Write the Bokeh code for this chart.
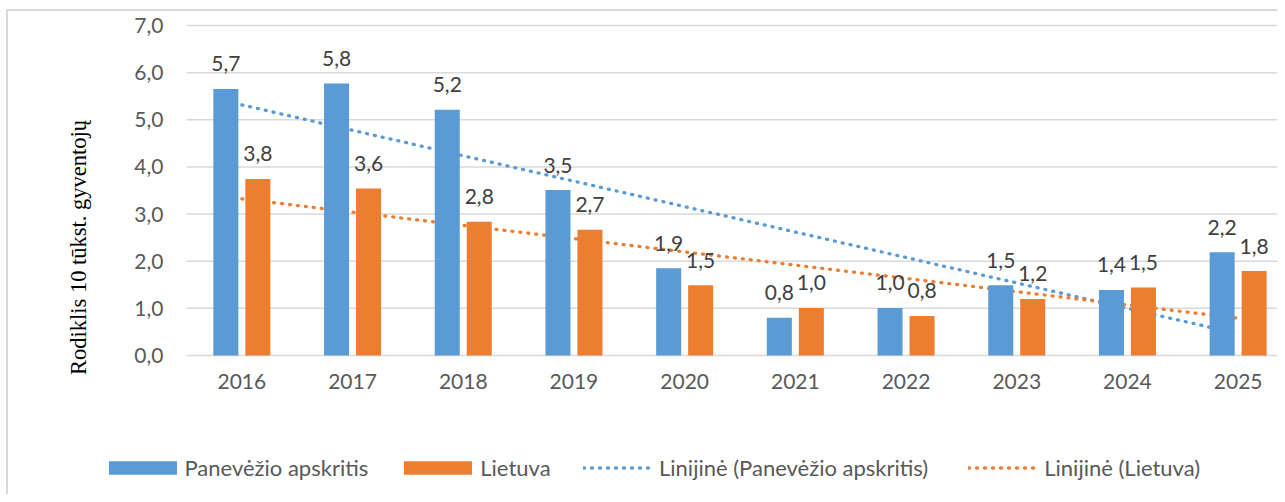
import numpy as np
from bokeh.plotting import figure
from bokeh.models import (ColumnDataSource, Range1d, FixedTicker, CustomJSTickFormatter,
                          Legend, LegendItem)
from bokeh.core.properties import value
from bokeh.embed import file_html
from bokeh.resources import INLINE

years = ["2016", "2017", "2018", "2019", "2020", "2021", "2022", "2023", "2024", "2025"]
panevezys = [5.655, 5.77, 5.215, 3.51, 1.853, 0.80, 1.01, 1.49, 1.39, 2.19]
lietuva = [3.745, 3.54, 2.835, 2.67, 1.49, 1.01, 0.84, 1.20, 1.445, 1.79]
pan_labels = ["5,7", "5,8", "5,2", "3,5", "1,9", "0,8", "1,0", "1,5", "1,4", "2,2"]
lt_labels = ["3,8", "3,6", "2,8", "2,7", "1,5", "1,0", "0,8", "1,2", "1,5", "1,8"]
y_ticks = [0, 1, 2, 3, 4, 5, 6, 7]
series_names = ["Panevėžio apskritis", "Lietuva",
                "Linijinė (Panevėžio apskritis)", "Linijinė (Lietuva)"]
y_title = "Rodiklis 10 tūkst. gyventojų"

BLUE = "#5B9BD5"
ORANGE = "#ED7D31"
GRID = "#D9D9D9"
FONT = "Lato"

W, H = 1277, 494
# plot-area geometry (pixels on the canvas)
PA_LEFT, PA_TOP, PA_BOTTOM = 186, 25, 355
CAT_PX = 110.7
Y_MAX = 7
UNIT_PX = (PA_BOTTOM - PA_TOP) / Y_MAX

idx = np.arange(len(years)) + 0.5
off = 0.1445
bw = 0.226

src = ColumnDataSource(dict(
    x_pan=idx - off, x_lt=idx + off,
    pan=panevezys, lt=lietuva,
    pan_lab=pan_labels, lt_lab=lt_labels,
))

# linear trend lines (least squares fit, as in the original chart)
kp, bp = np.polyfit(idx, panevezys, 1)
kl, bl = np.polyfit(idx, lietuva, 1)
tx = [idx[0], idx[-1]]
trend_src = ColumnDataSource(dict(
    x=tx,
    pan=[kp * t + bp for t in tx],
    lt=[kl * t + bl for t in tx],
))

x_start = -PA_LEFT / CAT_PX
x_end = (W - PA_LEFT) / CAT_PX
y_start = -(H - PA_BOTTOM) / UNIT_PX
y_end = Y_MAX + PA_TOP / UNIT_PX

p = figure(width=W, height=H,
           x_range=Range1d(x_start, x_end), y_range=Range1d(y_start, y_end),
           output_backend="svg", toolbar_location=None,
           min_border_left=0, min_border_right=0,
           min_border_top=0, min_border_bottom=0,
           outline_line_color=None,
           background_fill_color=None, border_fill_color=None)
p.styles = {
    "background-color": "white",
    "background-image": "linear-gradient(#D9D9D9,#D9D9D9), linear-gradient(#D9D9D9,#D9D9D9)",
    "background-repeat": "no-repeat",
    "background-size": "1400px 2px, 2px 600px",
    "background-position": "7px 9px, 6px 9px",
}

# horizontal gridlines over the plot area
p.segment(x0=0, x1=x_end, y0=y_ticks, y1=y_ticks, line_color=GRID, line_width=1.5)

# trend lines first (they sit behind the bars)
r_tp = p.line("x", "pan", source=trend_src, line_color=BLUE, line_width=3.3,
              line_dash="1 7", line_cap="round")
r_tl = p.line("x", "lt", source=trend_src, line_color=ORANGE, line_width=3.3,
              line_dash="1 7", line_cap="round")

r_bp = p.vbar(x="x_pan", top="pan", width=bw, source=src, fill_color=BLUE, line_color=None)
r_bl = p.vbar(x="x_lt", top="lt", width=bw, source=src, fill_color=ORANGE, line_color=None)

for xcol, ycol, tcol in (("x_pan", "pan", "pan_lab"), ("x_lt", "lt", "lt_lab")):
    p.text(x=xcol, y=ycol, text=tcol, source=src,
           text_align="center", text_baseline="middle", y_offset=-25,
           text_font=value(FONT), text_font_size="21px", text_color="#404040")

# axes, pinned to the plot area
p.xaxis.fixed_location = 0
p.yaxis.fixed_location = 0
p.xaxis.ticker = FixedTicker(ticks=list(idx))
p.xaxis.formatter = CustomJSTickFormatter(args=dict(years=years),
                                          code="return years[Math.floor(tick)];")
p.yaxis.ticker = FixedTicker(ticks=y_ticks)
p.yaxis.formatter = CustomJSTickFormatter(code="return tick.toFixed(1).replace('.', ',');")
for ax in (p.xaxis[0], p.yaxis[0]):
    ax.axis_line_color = None
    ax.major_tick_line_color = None
    ax.minor_tick_line_color = None
    ax.major_tick_out = 0
    ax.major_tick_in = 0
    ax.major_label_text_font = FONT
    ax.major_label_text_font_size = "21px"
    ax.major_label_text_color = "#595959"
p.xaxis.major_label_standoff = 18
p.yaxis.major_label_standoff = 23
p.yaxis.axis_label = y_title
p.yaxis.axis_label_text_font = "Liberation Serif"
p.yaxis.axis_label_text_font_size = "22.5px"
p.yaxis.axis_label_text_font_style = "normal"
p.yaxis.axis_label_text_color = "black"
p.yaxis.axis_label_standoff = 40

p.xgrid.visible = False
p.ygrid.visible = False

# legends
def style_legend(lg):
    lg.orientation = "horizontal"
    lg.background_fill_alpha = 0
    lg.border_line_color = None
    lg.padding = 0
    lg.margin = 0
    lg.label_text_font = FONT
    lg.label_text_font_size = "22px"
    lg.label_text_color = "#595959"

leg1 = Legend(items=[LegendItem(label=series_names[0], renderers=[r_bp]),
                     LegendItem(label=series_names[1], renderers=[r_bl])],
              location=(99.5, 13))
style_legend(leg1)
leg1.glyph_width = 85
leg1.glyph_height = 17
leg1.label_standoff = 0
leg1.spacing = 27

leg2 = Legend(items=[LegendItem(label=series_names[2], renderers=[r_tp]),
                     LegendItem(label=series_names[3], renderers=[r_tl])],
              location=(583, 13))
style_legend(leg2)
leg2.glyph_width = 71
leg2.glyph_height = 17
leg2.label_standoff = 5
leg2.spacing = 40

p.add_layout(leg1)
p.add_layout(leg2)

open("out.html", "w").write(file_html(p, INLINE))
